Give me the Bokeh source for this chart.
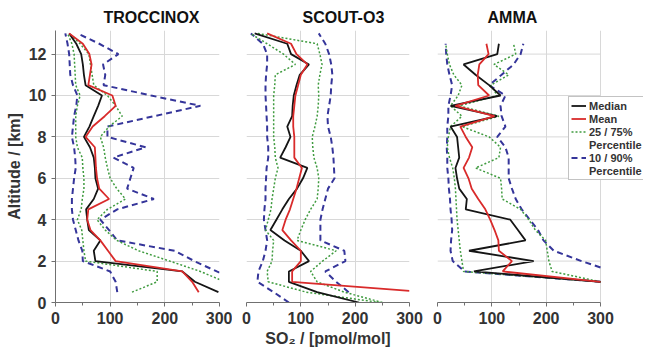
import numpy as np
from bokeh.plotting import figure
from bokeh.models import Range1d, FixedTicker, Legend, LegendItem
from bokeh.layouts import row
from bokeh.embed import file_html
from bokeh.resources import INLINE

nan = float("nan")

campaigns = ["TROCCINOX", "SCOUT-O3", "AMMA"]
x_ticks = [0, 100, 200, 300]
x_minor = [50, 150, 250]
y_ticks = [0, 2, 4, 6, 8, 10, 12]
legend_labels = ["Median", "Mean", "25 / 75%", "Percentile", "10 / 90%", "Percentile"]

# ---- TROCCINOX ----
troc_alt = [0.5, 1.0, 1.5, 2.0, 2.5, 3.0, 3.5, 4.0, 4.5, 5.0, 5.5, 6.0, 6.5,
            7.0, 7.5, 8.0, 8.5, 9.0, 9.5, 10.0, 10.5, 11.0, 11.5, 12.0, 12.5, 13.0]
troc_median = [298, 255, 232, 73, 70, 82, 61, 58, 56, 70, 78, 73, 72,
               70, 63, 52, 62, 70, 78, 85, 55, 52, 50, 47, 38, 25]
troc_mean = [262, 250, 232, 110, 96, 82, 64, 58, 60, 98, 80, 76, 74,
             73, 72, 55, 68, 90, 110, 104, 60, 63, 66, 62, 50, 25]
troc_p25 = [140, 186, 186, 55, 52, 50, 48, 40, 47, 49, 52, 52, 50,
            49, 40, 37, 37, 37, 40, 45, 37, 36, 35, 34, 30, 22]
troc_p75 = [nan, 310, 265, 209, 152, 112, 91, 76, 95, 128, 112, 100, 95,
            91, 88, 82, 98, 122, 110, 95, 70, 67, 64, 61, 45, 25]
troc_p10 = [113, 110, 100, 50, 49, 42, 37, 32, 30, 30, 32, 34, 37,
            36, 34, 30, 32, 34, 38, 40, 32, 27, 26, 25, 22, 18]
troc_p90 = [nan, 340, 295, 254, 218, 113, 98, 82, 113, 180, 131, 137, 143,
            106, 165, 95, 95, 180, 265, 175, 88, 91, 87, 115, 80, 40]

# ---- SCOUT-O3 ----
scout_alt = [0.0, 0.5, 1.0, 1.5, 2.0, 2.5, 3.0, 3.5, 4.0, 4.5, 5.0, 5.5, 6.0, 6.5,
             7.0, 7.5, 8.0, 8.5, 9.0, 9.5, 10.0, 10.5, 11.0, 11.5, 12.0, 12.5, 13.0]
scout_median = [207, 130, 78, 78, 115, 100, 70, 44, 55, 66, 78, 93, 104, 112,
                62, 72, 81, 75, 84, 85, 87, 92, 98, 115, 82, 75, 15]
scout_mean = [nan, 330, 84, 84, 100, 100, 82, 66, 72, 80, 86, 92, 97, 102,
              88, 88, 88, 86, 86, 88, 90, 95, 100, 112, 92, 82, 38]
scout_p25 = [245, 110, 40, 38, 47, 48, 50, 35, 40, 45, 47, 50, 53, 58,
             53, 52, 50, 50, 50, 50, 50, 52, 53, 90, 68, 38, 7]
scout_p75 = [250, 180, 130, 118, 140, 165, 93, 100, 108, 118, 130, 132, 133, 130,
             124, 122, 121, 126, 130, 132, 133, 132, 135, 139, 135, 130, 20]
scout_p10 = [78, 50, 20, 22, 30, 35, 38, 35, 32, 33, 35, 35, 36, 37,
             40, 40, 38, 38, 37, 36, 35, 35, 36, 38, 38, 30, 8]
scout_p90 = [nan, 188, 165, 145, 182, 180, 136, 136, 136, 140, 145, 150, 162, 161,
             160, 158, 155, 150, 149, 152, 155, 156, 158, 156, 152, 145, 133]

# ---- AMMA ----
amma_alt = [1.0, 1.5, 2.0, 2.5, 3.0, 3.5, 4.0, 4.5, 5.0, 5.5, 6.0, 6.5,
            7.0, 7.5, 8.0, 8.5, 9.0, 9.5, 10.0, 10.5, 11.0, 11.5, 12.0, 12.5]
amma_median = [300, 67, 177, 58, 162, 148, 134, 52, 54, 40, 36, 33,
               40, 38, 36, 24, 110, 24, 116, 95, 70, 48, 110, 113]
amma_mean = [300, 120, 137, 113, 112, 105, 97, 88, 75, 63, 57, 48,
             58, 64, 52, 42, 105, 33, 95, 75, 74, 77, 94, 90]
amma_p25 = [300, 48, 45, 42, 40, 38, 36, 35, 34, 33, 31, 28,
            22, 18, 20, 24, 45, 24, 38, 45, 30, 22, 18, 15]
amma_p75 = [300, 211, 205, 202, 199, 180, 168, 153, 119, 118, 116, 70,
            113, 116, 95, 45, 113, 40, 110, 98, 131, 104, 144, 140]
amma_p10 = [300, 50, 28, 24, 25, 27, 26, 24, 23, 21, 20, 18,
            18, 17, 18, 18, 20, 20, 24, 27, 22, 18, 16, 15]
amma_p90 = [nan, 322, 265, 214, 195, 185, 170, 155, 144, 137, 131, 131,
            131, 125, 110, 125, 118, 116, 125, 95, 118, 140, 153, 158]

X_MAX = 300.0


def clip_to_xmax(xs, ys, xmax=X_MAX):
    """Cut a polyline where it runs past the right end of the axis."""
    ox, oy = [], []
    n = len(xs)
    for k in range(n):
        x, y = xs[k], ys[k]
        if np.isnan(x):
            ox.append(nan); oy.append(nan)
            continue
        if k > 0 and not np.isnan(xs[k - 1]):
            px, py = xs[k - 1], ys[k - 1]
            if (px <= xmax) != (x <= xmax):
                t = (xmax - px) / (x - px)
                ox.append(xmax); oy.append(py + t * (y - py))
                if x > xmax:
                    ox.append(nan); oy.append(nan)
        if x <= xmax:
            ox.append(x); oy.append(y)
    return np.array(ox, dtype=float), np.array(oy, dtype=float)


FONT = "Liberation Sans"
TXT = "#333333"
BLACK = "#151515"
RED = "#d92b2b"
GREEN = "#3f9b3f"
BLUE = "#35359a"
GRID = "#d8d8d8"
AXIS = "#707070"

panels = [
    (troc_alt, troc_median, troc_mean, troc_p25, troc_p75, troc_p10, troc_p90),
    (scout_alt, scout_median, scout_mean, scout_p25, scout_p75, scout_p10, scout_p90),
    (amma_alt, amma_median, amma_mean, amma_p25, amma_p75, amma_p10, amma_p90),
]

widths = [232, 191, 221]
borders_left = [55, 14, 14]
borders_right = [13, 14, 1]
x_ends = [300, 300, 300 * 206 / 163]
title_offsets = [48, 56, 50]

figs = []
for i, (alt, med, mean, p25, p75, p10, p90) in enumerate(panels):
    p = figure(width=widths[i], height=352, output_backend="svg", toolbar_location=None,
               x_range=Range1d(0, x_ends[i]), y_range=Range1d(0, 13.14),
               min_border_left=borders_left[i], min_border_right=borders_right[i],
               min_border_top=30, min_border_bottom=50,
               y_axis_location="left" if i == 0 else None)
    p.outline_line_color = None
    p.background_fill_color = "white"
    p.border_fill_color = "white"

    p.title.text = campaigns[i]
    p.title.align = "left"
    p.title.offset = title_offsets[i]
    p.title.text_font = FONT
    p.title.text_font_style = "bold"
    p.title.text_font_size = "16px"
    p.title.text_color = "#111111"
    p.title.standoff = 10

    p.xaxis.ticker = FixedTicker(ticks=x_ticks, minor_ticks=x_minor)
    p.xaxis.bounds = (0, 300)
    p.xgrid.ticker = FixedTicker(ticks=x_ticks)
    p.ygrid.ticker = FixedTicker(ticks=y_ticks)
    p.xgrid.grid_line_color = GRID
    p.ygrid.grid_line_color = GRID
    p.xaxis.axis_line_color = AXIS
    p.xaxis.major_tick_line_color = AXIS
    p.xaxis.minor_tick_line_color = AXIS
    p.xaxis.major_tick_out = 4
    p.xaxis.major_tick_in = 0
    p.xaxis.minor_tick_out = 3
    p.xaxis.minor_tick_in = 0
    p.xaxis.major_label_text_font = FONT
    p.xaxis.major_label_text_font_style = "bold"
    p.xaxis.major_label_text_font_size = "16px"
    p.xaxis.major_label_text_color = TXT
    p.xaxis.major_label_standoff = 5
    p.xaxis.axis_label = "SO\u2082 / [pmol/mol]" if i == 1 else " "
    p.xaxis.axis_label_text_font = FONT
    p.xaxis.axis_label_text_font_style = "bold"
    p.xaxis.axis_label_text_font_size = "16px"
    p.xaxis.axis_label_text_color = TXT
    p.xaxis.axis_label_standoff = 3

    if i == 0:
        p.yaxis.ticker = FixedTicker(ticks=y_ticks, minor_ticks=[])
        p.yaxis.axis_line_color = AXIS
        p.yaxis.major_tick_line_color = AXIS
        p.yaxis.major_tick_out = 4
        p.yaxis.major_tick_in = 0
        p.yaxis.minor_tick_line_color = None
        p.yaxis.major_label_text_font = FONT
        p.yaxis.major_label_text_font_style = "bold"
        p.yaxis.major_label_text_font_size = "16px"
        p.yaxis.major_label_text_color = TXT
        p.yaxis.major_label_standoff = 5
        p.yaxis.axis_label = "Altitude / [km]"
        p.yaxis.axis_label_text_font = FONT
        p.yaxis.axis_label_text_font_style = "bold"
        p.yaxis.axis_label_text_font_size = "16px"
        p.yaxis.axis_label_text_color = TXT
        p.yaxis.axis_label_standoff = 3

    if i == 2:
        # grid lines stop at the end of the axis; the legend sits past it
        p.ygrid.visible = False
        p.segment(x0=0, x1=X_MAX, y0=y_ticks, y1=y_ticks, line_color=GRID, line_width=1)

    a = np.array(alt, dtype=float)

    def draw(vals, **kw):
        xs, ys = clip_to_xmax(np.array(vals, dtype=float), a)
        return p.line(xs, ys, **kw)

    r10 = draw(p10, line_color=BLUE, line_width=2, line_dash="6 4")
    draw(p90, line_color=BLUE, line_width=2, line_dash="6 4")
    r25 = draw(p25, line_color=GREEN, line_width=1.5, line_dash="2 2")
    draw(p75, line_color=GREEN, line_width=1.5, line_dash="2 2")
    rmed = draw(med, line_color=BLACK, line_width=1.8)
    rmean = draw(mean, line_color=RED, line_width=1.8)

    if i == 2:
        blank = p.line([], [], line_alpha=0)
        legend_rs = [rmed, rmean, r25, blank, r10, blank]
        items = [LegendItem(label=lab, renderers=[r]) for lab, r in zip(legend_labels, legend_rs)]
        leg = Legend(items=items, location=(131, 122))
        leg.label_text_font = FONT
        leg.label_text_font_style = "bold"
        leg.label_text_font_size = "11px"
        leg.label_text_color = TXT
        leg.border_line_color = "#888888"
        leg.border_line_width = 1
        leg.background_fill_color = "white"
        leg.background_fill_alpha = 1
        leg.padding = 2
        leg.spacing = 0
        leg.margin = 0
        leg.glyph_width = 15
        leg.glyph_height = 13
        leg.label_height = 13
        leg.label_standoff = 3
        p.add_layout(leg)
    figs.append(p)

layout = row(*figs)
open("out.html", "w").write(file_html(layout, INLINE))
